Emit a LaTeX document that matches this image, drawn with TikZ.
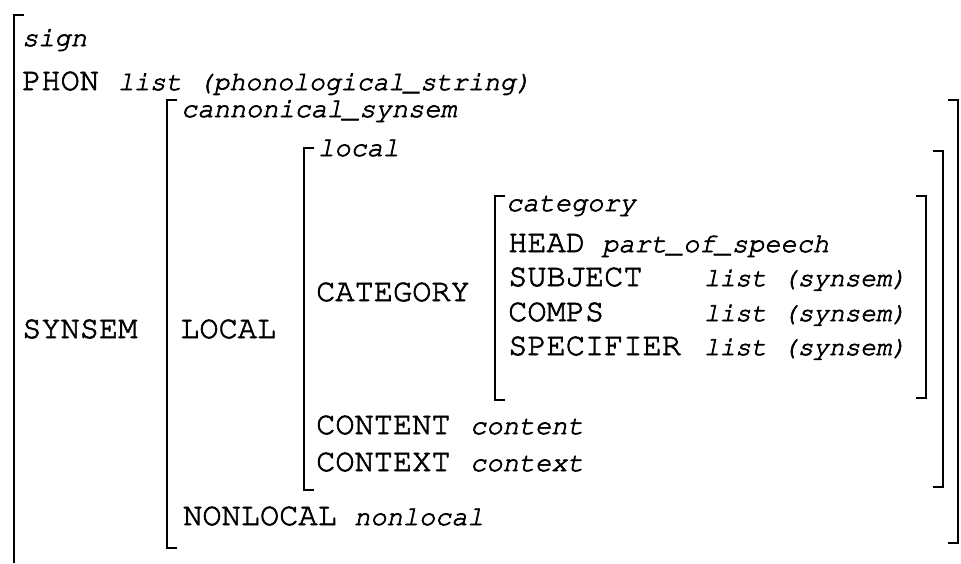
\documentclass[tikz,border=0pt]{standalone}
\usepackage[T1]{fontenc}
% heavier Courier strokes: fill and stroke the glyph outlines
\newcommand{\inkset}{\special{pdf:literal direct 2 Tr 0.7 w}}
\newcommand{\inkreset}{\special{pdf:literal direct 0 Tr}}
\newcommand{\avm}[1]{\inkset#1\inkreset}
\begin{document}
\begin{tikzpicture}[x=1pt,y=-1pt,
  attr/.style={inner sep=0pt,anchor=base west,font=\fontfamily{pcr}\fontsize{32}{32}\selectfont},
  val/.style={inner sep=0pt,anchor=base west,font=\fontfamily{pcr}\fontsize{27}{27}\selectfont\itshape},
  listval/.style={val,font=\fontfamily{pcr}\fontsize{26}{26}\selectfont\itshape},
  brk/.style={line width=1.8pt,line cap=butt,line join=miter}]
\useasboundingbox (0,0) rectangle (961,563);

% outermost sign matrix (open at the bottom)
\coordinate (signTL) at (14,15);
\draw[brk] ([xshift=10]signTL) -- (signTL) -- (14,563);
\node[val] (sign) at (22,46) {\avm{sign}};
\node[attr] (phon) at (22,90) {\avm{PHON}};
\node[val,font=\fontfamily{pcr}\fontsize{26.5}{26.5}\selectfont\itshape] (phonval) at (118,90) {\avm{list (phonological\_string)}};

% SYNSEM value
\node[attr] (synsem) at (22,338) {\avm{SYNSEM}};
\draw[brk] (177,100) -- (167,100) -- (167,548) -- (177,548);
\draw[brk] (948,100) -- (958,100) -- (958,543) -- (948,543);
\node[val] (csyn) at (181,117) {\avm{cannonical\_synsem}};

% LOCAL value
\node[attr] (local) at (180,338) {\avm{LOCAL}};
\draw[brk] (314,148) -- (304,148) -- (304,490) -- (314,490);
\draw[brk] (933,151) -- (943,151) -- (943,487) -- (933,487);
\node[val] (localt) at (318,156) {\avm{local}};

% CATEGORY value
\node[attr] (cat) at (316,301) {\avm{CATEGORY}};
\draw[brk] (505,196) -- (495,196) -- (495,400) -- (505,400);
\draw[brk] (916,196) -- (926,196) -- (926,398) -- (916,398);
\node[val] (catt) at (506,211) {\avm{category}};
\node[attr] (head) at (508,252) {\avm{HEAD}};
\node[val] (headval) at (602,252) {\avm{part\_of\_speech}};
\node[attr] (subj) at (508,286) {\avm{SUBJECT}};
\node[listval] (subjval) at (704,286) {\avm{list (synsem)}};
\node[attr] (comps) at (508,321) {\avm{COMPS}};
\node[listval] (compsval) at (704,321) {\avm{list (synsem)}};
\node[attr] (spec) at (508,355) {\avm{SPECIFIER}};
\node[listval] (specval) at (704,355) {\avm{list (synsem)}};

\node[attr] (cont) at (316,434) {\avm{CONTENT}};
\node[val] (contval) at (470,434) {\avm{content}};
\node[attr] (ctx) at (316,471) {\avm{CONTEXT}};
\node[val] (ctxval) at (470,471) {\avm{context}};

\node[attr] (nonloc) at (183,525) {\avm{NONLOCAL}};
\node[val] (nonlocval) at (354,525) {\avm{nonlocal}};
\end{tikzpicture}
\end{document}
